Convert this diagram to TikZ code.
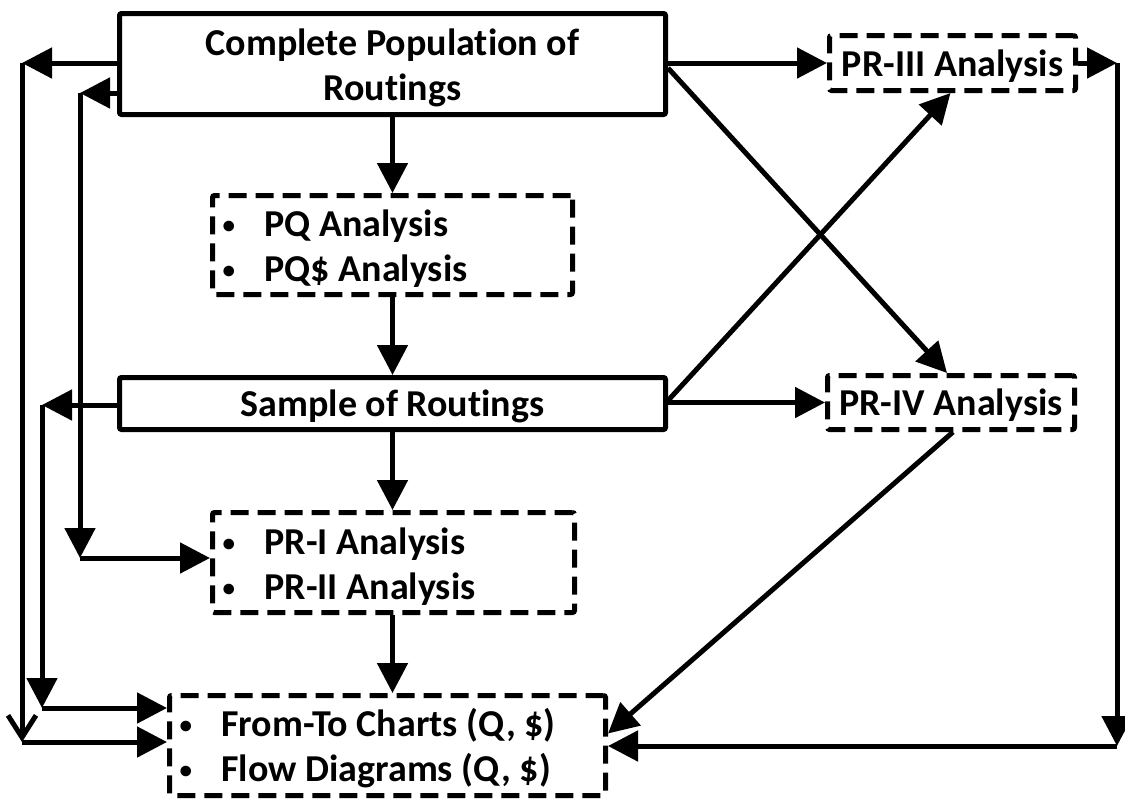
\documentclass[tikz,border=0pt]{standalone}
\usepackage{fontspec}
\setmainfont{Carlito}[Ligatures=NoCommon]
\usetikzlibrary{arrows.meta,calc}
\newcommand\bul{\spaceskip=0pt\xspaceskip=0pt\makebox[42pt][l]{\raisebox{3pt}{\fontsize{25}{25}\selectfont\textbullet}}}
\frenchspacing
\begin{document}
\begin{tikzpicture}[x=1pt,y=-1pt,
  box/.style={draw, line width=5pt, rounded corners=2pt, font=\fontsize{38}{45}\selectfont\bfseries\frenchspacing, align=center, inner sep=0pt},
  dbox/.style={box, dash pattern=on 18pt off 9pt},
  lbox/.style={dbox, align=left, inner xsep=10pt},
  conn/.style={line width=5pt, -{Triangle[length=30pt,width=30pt]}},
  vconn/.style={line width=5pt, -{Straight Barb[length=22pt,width=28pt]}}
  ]
\useasboundingbox (0,0) rectangle (1125,801);

% boxes
\node[box, minimum width=546pt, minimum height=101pt] (top) at (392.5,64) {\rule{0pt}{34pt}Complete Population of\\Routings};
\node[lbox, text width=340pt, minimum height=99pt] (pq) at (392.5,245) {\rule{0pt}{34pt}\bul PQ Analysis\\\bul PQ\$ Analysis};
\node[box, minimum width=546pt, minimum height=52pt, text height=32pt, text depth=6pt] (sample) at (392.5,403.5) {Sample of Routings};
\node[lbox, text width=342pt, minimum height=100pt] (pr12) at (393.5,562.5) {\rule{0pt}{34pt}\bul PR-I Analysis\\\bul PR-II Analysis};
\node[lbox, text width=416pt, minimum height=100pt] (ft) at (387.5,745.5) {\rule{0pt}{34pt}\bul From-To Charts (Q, \$)\\\bul Flow Diagrams (Q, \$)};
\node[dbox, minimum width=246pt, minimum height=55pt, text height=32pt, text depth=6pt] (pr3) at (952.5,63) {PR-III Analysis};
\node[dbox, minimum width=247pt, minimum height=54pt, text height=32pt, text depth=6pt] (pr4) at (951,402.5) {PR-IV Analysis};

% helper coordinates
\coordinate (la) at (22,63);
\coordinate (la2) at (22,742);
\coordinate (lb) at (80,93);
\coordinate (lb2) at (80,558);
\coordinate (lc) at (42,405);
\coordinate (lc2) at (42,708);
\coordinate (ra) at (1117,63);
\coordinate (ra2) at (1117,746);

% centre column
\draw[conn] (top.south) -- (top.south |- pq.north);
\draw[conn] (pq.south) -- (pq.south |- sample.north);
\draw[conn] (sample.south) -- (sample.south |- pr12.north);
\draw[conn] (sample.south |- pr12.south) -- (sample.south |- ft.north);

% left side
\draw[conn] (top.west |- la) -- (la);
\draw[vconn] (la) -- (la2);
\draw[conn] (la2) -- (la2 -| ft.west);
\draw[conn] (top.west |- lb) -- (lb);
\draw[conn] (lb) -- (lb2);
\draw[conn] (lb2) -- (lb2 -| pr12.west);
\draw[conn] (sample.west |- lc) -- (lc);
\draw[conn] (lc) -- (lc2);
\draw[conn] (lc2) -- (lc2 -| ft.west);

% right side
\draw[conn] (top.east |- pr3.west) -- (pr3.west);
\draw[conn] ($(top.east)+(0,4)$) -- ($(pr4.north)+(-4,0)$);
\draw[conn] (sample.east |- pr4.west) -- (pr4.west);
\draw[conn] ($(sample.east)+(0,-3)$) -- ($(pr3.south)+(-2,0)$);
\draw[conn] ($(pr4.south)+(2,0)$) -- ($(ft.east)+(0,-12)$);
\draw[conn] (pr3.east) -- (pr3.east -| ra);
\draw[conn] (ra) -- (ra2);
\draw[conn] (ra2) -- (ra2 -| ft.east);
\end{tikzpicture}
\end{document}
